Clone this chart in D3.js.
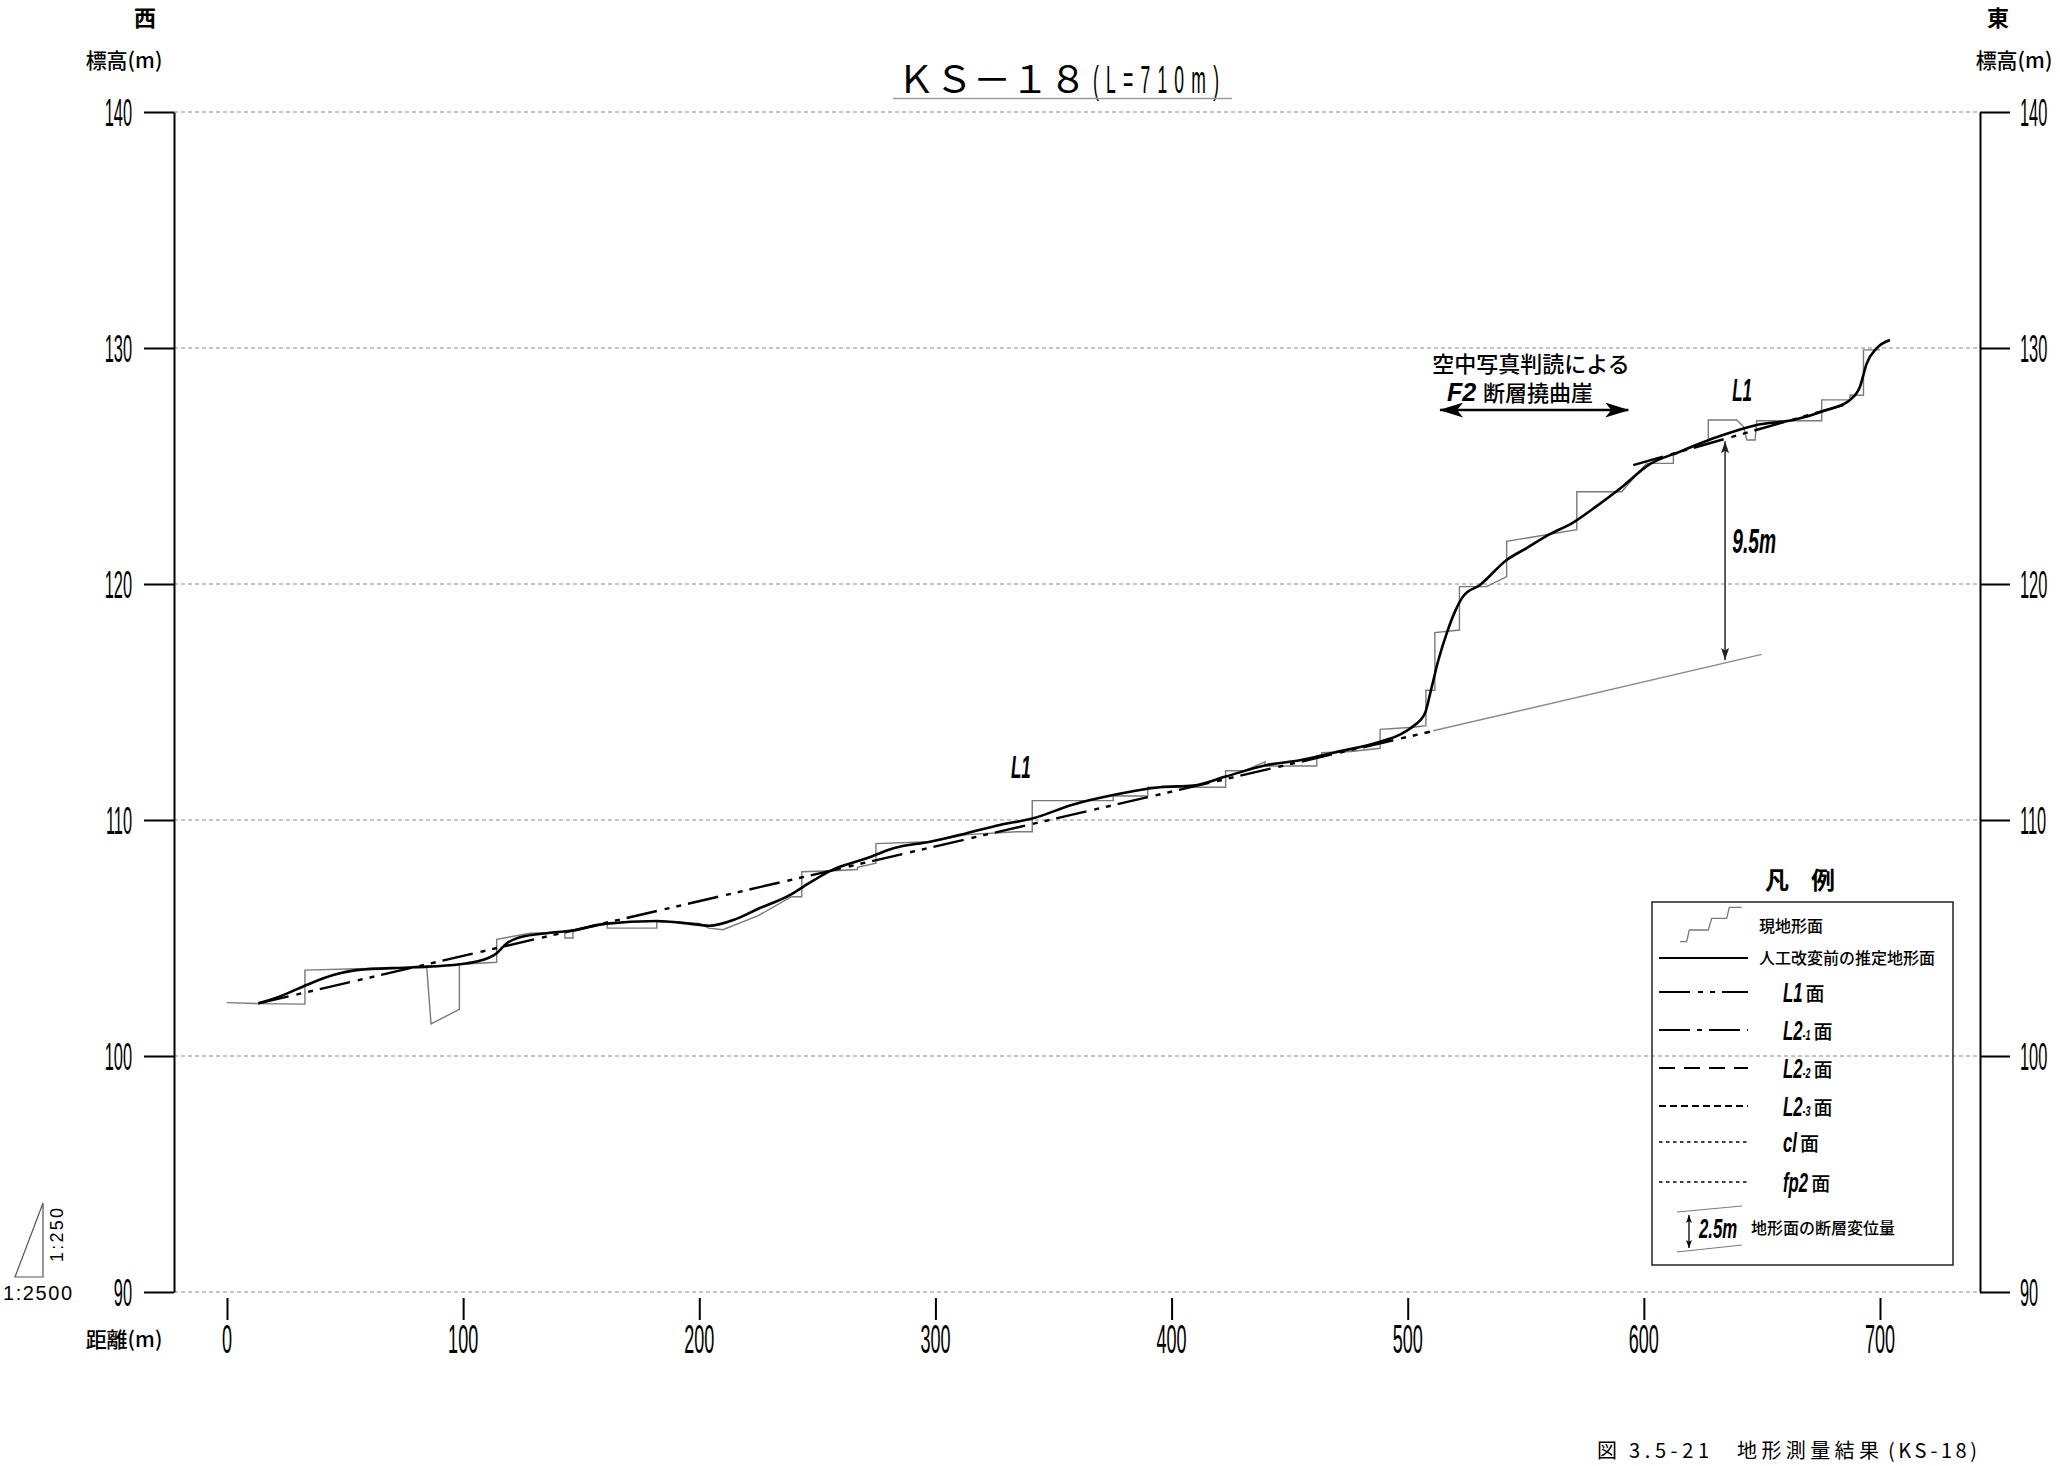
<!DOCTYPE html>
<html><head><meta charset="utf-8">
<script src="https://cdn.jsdelivr.net/npm/d3@7"></script>
<style>html,body{margin:0;padding:0;background:#fff;} svg{display:block;}</style>
</head><body>
<svg id="c" width="2060" height="1466"></svg>
<script>
// ---------------- data ----------------
const yTicks = [90, 100, 110, 120, 130, 140];
const xTicks = [0, 100, 200, 300, 400, 500, 600, 700];

// 現地形面 (current ground surface) [distance m, elevation m]
const currentTerrain = [[0,102.26],[13.3,102.22],[33,102.2],[33,103.64],[55,103.7],[84.6,103.76],[86.4,101.36],[98.4,101.98],[98.4,103.89],[114.2,103.97],[114.2,104.94],[128.3,105.2],[143.1,105.25],[143.1,105.0],[146.5,105.0],[146.5,105.3],[161,105.6],[161,105.42],[182,105.42],[182,105.7],[200,105.62],[204,105.42],[210,105.35],[225,105.95],[239.1,106.75],[243.4,106.75],[243.4,107.81],[256.8,107.85],[267,107.9],[267,108.0],[274.8,108.17],[274.8,109.0],[297.7,109.08],[313.2,109.38],[334.4,109.5],[341,109.5],[341,110.82],[375.3,110.82],[375.3,111.02],[389.9,111.02],[389.9,111.39],[422.9,111.39],[422.9,112.09],[431.1,112.09],[439.6,112.47],[439.6,112.29],[461.5,112.29],[461.5,112.66],[463.6,112.66],[463.6,112.85],[476,112.9],[488.3,113.04],[488.3,113.84],[502.4,113.93],[507.7,114.0],[507.7,115.5],[511.5,115.5],[511.5,117.94],[521.9,118.05],[521.9,119.89],[533.4,119.89],[541.9,120.31],[541.9,121.81],[571.6,122.3],[571.6,123.91],[590.6,123.91],[601.2,125.11],[612.5,125.11],[612.5,125.45],[627.3,126.1],[627.3,126.95],[639.3,126.95],[642.2,126.67],[643.6,126.1],[647.1,126.1],[647.8,126.92],[675.3,126.92],[675.3,127.8],[687.3,127.8],[687.3,128.0],[693,128.0],[693,129.92],[700,129.92]];

// 人工改変前の推定地形面 (estimated surface before modification)
const estimatedTerrain = [[13.3,102.23],[23.8,102.58],[33.7,103.01],[45,103.43],[54.9,103.64],[78.9,103.76],[98.7,103.89],[105.7,104.0],[114.2,104.35],[118.4,104.77],[124.1,105.03],[136.8,105.22],[148.1,105.34],[159.7,105.6],[182,105.72],[195,105.62],[204.2,105.52],[215.4,105.8],[224.3,106.21],[239.1,106.86],[244,107.17],[256.8,107.91],[270.9,108.38],[282.2,108.8],[297.7,109.08],[313.2,109.44],[327.3,109.79],[341,110.06],[358.4,110.66],[375.3,111.06],[395.1,111.39],[409.2,111.46],[422.9,111.84],[440.3,112.33],[454.4,112.53],[468.5,112.85],[488.3,113.32],[496.7,113.62],[502.4,113.98],[507.3,114.52],[509.6,115.4],[513,116.78],[516.5,117.91],[520,118.83],[523.6,119.49],[530.6,119.96],[541.9,121.02],[550,121.5],[560,122.1],[570,122.6],[580,123.3],[590.6,124.1],[601.9,125.04],[615,125.6],[632.2,126.27],[647.8,126.74],[663.3,126.95],[677.4,127.37],[687.3,127.8],[691.5,128.36],[694.4,129.35],[698.6,129.99],[704.2,130.34]];

// L1面 lines
const l1Lower = [[13.3,102.23],[509.4,113.74]];
const l1Upper = [[595.5,125.04],[684.5,127.58]];
// extension of the footwall surface (thin grey)
const offsetLine = [[510.8,113.78],[649.9,117.02]];
// 9.5m throw arrow [distance, top, bottom]
const throwArrow = [634.4, 126.05, 116.78];
const throwLabel = "9.5m";
// F2 flexure scarp arrow [from, to, elevation]
const scarpArrow = [513.7, 593.4, 127.37];
const scarpLines = ["空中写真判読による", "断層撓曲崖"];

// ---------------- drawing ----------------
const svg = d3.select('#c');
const x = d3.scaleLinear().domain([0, 700]).range([227, 1880]);
const y = d3.scaleLinear().domain([90, 140]).range([1292, 112]);
const LAT = "'Liberation Sans', Arial, sans-serif";
const CJK = "'Noto Sans CJK JP', 'Noto Sans CJK SC', sans-serif";

function ctext(parent, px, py, str, o = {}) {
  const t = parent.append('text')
    .attr('transform', `translate(${px},${py}) scale(${o.sx || 1},1)`)
    .attr('text-anchor', o.anchor || 'start')
    .attr('font-family', o.family || LAT)
    .attr('font-size', o.size || 20)
    .attr('font-weight', o.weight || 'normal')
    .attr('font-style', o.style || 'normal')
    .attr('fill', o.fill || '#000')
    .text(str);
  if (o.ls) t.attr('letter-spacing', o.ls);
  return t;
}
function w(t, sx) { return t.node().getComputedTextLength() * (sx || 1); }

const defs = svg.append('defs');
defs.append('marker').attr('id', 'ah').attr('viewBox', '0 0 12 8').attr('refX', 12).attr('refY', 4)
  .attr('markerWidth', 12).attr('markerHeight', 8).attr('markerUnits', 'userSpaceOnUse')
  .attr('orient', 'auto-start-reverse')
  .append('path').attr('d', 'M0,0 L12,4 L0,8 L2.5,4 Z').attr('fill', '#222');
defs.append('marker').attr('id', 'bh').attr('viewBox', '0 0 24 15').attr('refX', 23).attr('refY', 7.5)
  .attr('markerWidth', 24).attr('markerHeight', 15).attr('markerUnits', 'userSpaceOnUse')
  .attr('orient', 'auto-start-reverse')
  .append('path').attr('d', 'M0,0 L24,7.5 L0,15 L6,7.5 Z').attr('fill', '#000');
defs.append('marker').attr('id', 'sh').attr('viewBox', '0 0 8 6').attr('refX', 8).attr('refY', 3)
  .attr('markerWidth', 8).attr('markerHeight', 6).attr('markerUnits', 'userSpaceOnUse')
  .attr('orient', 'auto-start-reverse')
  .append('path').attr('d', 'M0,0 L8,3 L0,6 L2,3 Z').attr('fill', '#000');

// gridlines
svg.append('g').selectAll('line').data(yTicks).join('line')
  .attr('x1', 174).attr('x2', 1980).attr('y1', d => y(d)).attr('y2', d => y(d))
  .attr('stroke', '#8a8a8a').attr('stroke-width', 1.2).attr('stroke-dasharray', '4 3');

// axes
const la = svg.append('g').attr('transform', 'translate(174,0)')
  .call(d3.axisLeft(y).tickValues(yTicks).tickSize(30).tickSizeOuter(0).tickFormat(''));
const ra = svg.append('g').attr('transform', 'translate(1980,0)')
  .call(d3.axisRight(y).tickValues(yTicks).tickSize(30).tickSizeOuter(0).tickFormat(''));
const xa = svg.append('g').attr('transform', 'translate(0,1298)')
  .call(d3.axisBottom(x).tickValues(xTicks).tickSize(22).tickSizeOuter(0).tickFormat(''));
xa.select('.domain').remove();
[la, ra, xa].forEach(g => g.selectAll('path,line').attr('stroke', '#000').attr('stroke-width', 2));

const lab = svg.append('g');
yTicks.forEach(v => {
  ctext(lab, 132, y(v) + 14, String(v), {size: 39, sx: 0.42, anchor: 'end'});
  ctext(lab, 2020, y(v) + 14, String(v), {size: 39, sx: 0.42, anchor: 'start'});
});
xTicks.forEach(d => ctext(lab, x(d), 1353, String(d), {size: 41, sx: 0.44, anchor: 'middle'}));

// axis titles and headings
ctext(lab, 145, 26, '西', {family: CJK, size: 22, weight: 700, anchor: 'middle'});
ctext(lab, 1998, 26, '東', {family: CJK, size: 22, weight: 700, anchor: 'middle'});
ctext(lab, 124, 68, '標高(m)', {family: CJK, size: 21, weight: 500, anchor: 'middle'});
ctext(lab, 2014, 68, '標高(m)', {family: CJK, size: 21, weight: 500, anchor: 'middle'});
ctext(lab, 124, 1347, '距離(m)', {family: CJK, size: 21, weight: 500, anchor: 'middle'});

// title
ctext(lab, 897, 93, 'ＫＳ－１８', {family: CJK, size: 38});
ctext(lab, 1093, 93, '(L=710m)', {size: 39, sx: 0.45, ls: 16});
lab.append('line').attr('x1', 893).attr('x2', 1232).attr('y1', 98.5).attr('y2', 98.5)
  .attr('stroke', '#9a9a9a').attr('stroke-width', 1.5);

// scale indicator
lab.append('path').attr('d', 'M43,1203 L43,1277 L15,1277 Z').attr('fill', 'none').attr('stroke', '#555').attr('stroke-width', 1.2);
lab.append('text').attr('transform', 'translate(63,1235) rotate(-90)').attr('text-anchor', 'middle')
  .attr('font-family', LAT).attr('font-size', 18).attr('textLength', 54).attr('lengthAdjust', 'spacing').text('1:250');
lab.append('text').attr('x', 3).attr('y', 1300).attr('font-family', LAT).attr('font-size', 20)
  .attr('textLength', 69).attr('lengthAdjust', 'spacing').text('1:2500');

// caption
const cap = svg.append('g').attr('font-family', CJK).attr('font-size', 20);
cap.append('text').attr('x', 1597).attr('y', 1458).text('図');
cap.append('text').attr('x', 1629).attr('y', 1458).attr('textLength', 80).attr('lengthAdjust', 'spacing').text('3.5-21');
cap.append('text').attr('x', 1737).attr('y', 1458).attr('textLength', 142).attr('lengthAdjust', 'spacing').text('地形測量結果');
cap.append('text').attr('x', 1888).attr('y', 1458).attr('textLength', 89).attr('lengthAdjust', 'spacing').text('(KS-18)');

// ---------------- marks ----------------
const plot = svg.append('g');
const lineLin = d3.line().x(d => x(d[0])).y(d => y(d[1]));
const lineSmooth = d3.line().x(d => x(d[0])).y(d => y(d[1])).curve(d3.curveMonotoneX);
const L1DASH = '31 8 5 7 5 7';

plot.append('path').datum(offsetLine).attr('d', lineLin)
  .attr('fill', 'none').attr('stroke', '#8a8a8a').attr('stroke-width', 1.4);
plot.append('path').datum(currentTerrain).attr('d', lineLin)
  .attr('fill', 'none').attr('stroke', '#7a7a7a').attr('stroke-width', 1.4).attr('stroke-linejoin', 'miter');
[l1Lower, l1Upper].forEach(seg => plot.append('path').datum(seg).attr('d', lineLin)
  .attr('fill', 'none').attr('stroke', '#000').attr('stroke-width', 2.4).attr('stroke-dasharray', L1DASH));
plot.append('path').datum(estimatedTerrain).attr('d', lineSmooth)
  .attr('fill', 'none').attr('stroke', '#000').attr('stroke-width', 2.6).attr('stroke-linejoin', 'round');

// 9.5m arrow
plot.append('line').attr('x1', x(throwArrow[0])).attr('x2', x(throwArrow[0]))
  .attr('y1', y(throwArrow[1])).attr('y2', y(throwArrow[2]))
  .attr('stroke', '#333').attr('stroke-width', 1.6)
  .attr('marker-start', 'url(#ah)').attr('marker-end', 'url(#ah)');
ctext(plot, x(646.7), y(121.82) + 12, throwLabel, {size: 35, sx: 0.55, weight: 700, style: 'italic', anchor: 'middle'});

// L1 labels
ctext(plot, x(336.2), y(112.25) + 11, 'L1', {size: 31, sx: 0.55, weight: 700, style: 'italic', anchor: 'middle'});
ctext(plot, x(641.6), y(128.22) + 11, 'L1', {size: 31, sx: 0.55, weight: 700, style: 'italic', anchor: 'middle'});

// F2 scarp arrow + text
plot.append('line').attr('x1', x(scarpArrow[0])).attr('x2', x(scarpArrow[1]))
  .attr('y1', y(scarpArrow[2])).attr('y2', y(scarpArrow[2]))
  .attr('stroke', '#000').attr('stroke-width', 2.6)
  .attr('marker-start', 'url(#bh)').attr('marker-end', 'url(#bh)');
ctext(plot, 1531, 372, scarpLines[0], {family: CJK, size: 22, weight: 500, anchor: 'middle'});
ctext(plot, 1447, 401, 'F2', {size: 25, weight: 700, style: 'italic'});
ctext(plot, 1483, 401, scarpLines[1], {family: CJK, size: 22, weight: 500});

// ---------------- legend ----------------
const lg = svg.append('g');
ctext(lg, 1777, 889, '凡', {family: CJK, size: 24, weight: 700, anchor: 'middle'});
ctext(lg, 1823, 889, '例', {family: CJK, size: 24, weight: 700, anchor: 'middle'});
lg.append('rect').attr('x', 1652).attr('y', 902).attr('width', 301).attr('height', 363)
  .attr('fill', 'none').attr('stroke', '#222').attr('stroke-width', 1.5);
lg.append('path').attr('d', 'M1680,941.7 L1686.7,941.7 L1689.3,930 L1708.3,930 L1711.7,918.3 L1726.7,918.3 L1729.3,907.3 L1741.7,907.3')
  .attr('fill', 'none').attr('stroke', '#7a7a7a').attr('stroke-width', 1.3);
ctext(lg, 1759, 932, '現地形面', {family: CJK, size: 16, weight: 500});
lg.append('line').attr('x1', 1659).attr('x2', 1748).attr('y1', 958).attr('y2', 958).attr('stroke', '#000').attr('stroke-width', 2);
ctext(lg, 1759, 964, '人工改変前の推定地形面', {family: CJK, size: 16, weight: 500});

const rows = [
  {y: 992, dash: '31 8 5 7 5 7', sw: 2, main: 'L1', sub: ''},
  {y: 1030, dash: '31 7 5 7', sw: 2, main: 'L2', sub: '-1'},
  {y: 1068, dash: '16 9', sw: 2, main: 'L2', sub: '-2'},
  {y: 1106, dash: '7 4', sw: 2, main: 'L2', sub: '-3'},
  {y: 1142, dash: '3.5 3.5', sw: 1.5, main: 'cl', sub: ''},
  {y: 1182, dash: '3.5 3.5', sw: 1.5, main: 'fp2', sub: ''}
];
rows.forEach(r => {
  lg.append('line').attr('x1', 1659).attr('x2', 1748).attr('y1', r.y).attr('y2', r.y)
    .attr('stroke', '#000').attr('stroke-width', r.sw).attr('stroke-dasharray', r.dash);
  const t = ctext(lg, 1783, r.y + 10, r.main, {size: 28, sx: 0.6, weight: 700, style: 'italic'});
  let cx = 1783 + w(t, 0.6);
  if (r.sub) {
    const s = ctext(lg, cx, r.y + 10, r.sub, {size: 15, sx: 0.6, weight: 700, style: 'italic'});
    cx += w(s, 0.6);
  }
  ctext(lg, cx + 3, r.y + 9, '面', {family: CJK, size: 19, weight: 500});
});
lg.append('line').attr('x1', 1677).attr('x2', 1742).attr('y1', 1212).attr('y2', 1206).attr('stroke', '#7a7a7a').attr('stroke-width', 1.2);
lg.append('line').attr('x1', 1677).attr('x2', 1742).attr('y1', 1252).attr('y2', 1245).attr('stroke', '#7a7a7a').attr('stroke-width', 1.2);
lg.append('line').attr('x1', 1689).attr('x2', 1689).attr('y1', 1215).attr('y2', 1248)
  .attr('stroke', '#000').attr('stroke-width', 1.3).attr('marker-start', 'url(#sh)').attr('marker-end', 'url(#sh)');
ctext(lg, 1699, 1238, '2.5m', {size: 28, sx: 0.6, weight: 700, style: 'italic'});
ctext(lg, 1751, 1234, '地形面の断層変位量', {family: CJK, size: 16, weight: 500});
</script>
</body></html>
